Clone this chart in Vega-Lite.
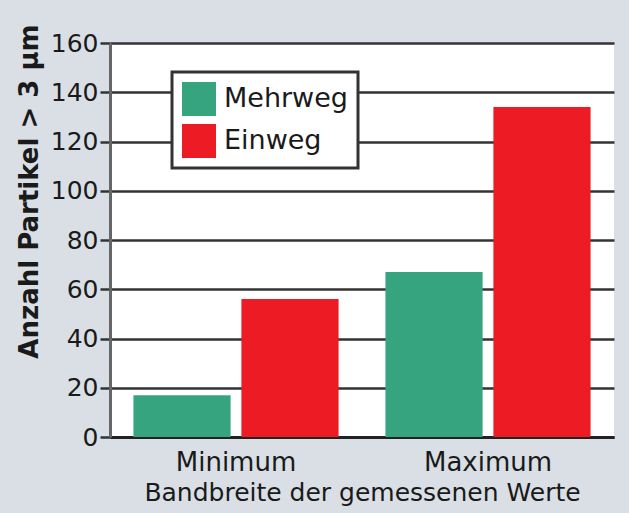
{
  "$schema": "https://vega.github.io/schema/vega-lite/v6.json",
  "autosize": "none",
  "width": 504,
  "height": 394,
  "padding": {"left": 110, "top": 43, "right": 15, "bottom": 76},
  "background": "#d9dfe5",
  "config": {
    "font": "DejaVu Sans",
    "aria": false,
    "view": {"fill": "white", "stroke": null}
  },
  "data": {
    "values": [
      {"Bereich": "Minimum", "Typ": "Mehrweg", "Anzahl": 17},
      {"Bereich": "Minimum", "Typ": "Einweg", "Anzahl": 56},
      {"Bereich": "Maximum", "Typ": "Mehrweg", "Anzahl": 67},
      {"Bereich": "Maximum", "Typ": "Einweg", "Anzahl": 134}
    ]
  },
  "mark": {"type": "bar"},
  "encoding": {
    "x": {
      "field": "Bereich",
      "type": "nominal",
      "sort": ["Minimum", "Maximum"],
      "title": "Bandbreite der gemessenen Werte",
      "scale": {"paddingInner": 0, "paddingOuter": 0},
      "axis": {
        "titleFontSize": 25,
        "titleFontWeight": "normal",
        "titleColor": "#1a1a1a",
        "titlePadding": 5,
        "labelFontSize": 26,
        "labelColor": "#1a1a1a",
        "labelAngle": 0,
        "labelPadding": 12,
        "ticks": false,
        "domainColor": "#222",
        "domainWidth": 3
      }
    },
    "xOffset": {
      "field": "Typ",
      "type": "nominal",
      "sort": ["Mehrweg", "Einweg"],
      "scale": {"paddingInner": 0.1, "paddingOuter": 0.217}
    },
    "y": {
      "field": "Anzahl",
      "type": "quantitative",
      "stack": null,
      "title": "Anzahl Partikel > 3 µm",
      "scale": {"domain": [0, 160], "nice": false},
      "axis": {
        "titleFontSize": 26,
        "titleFontWeight": "bold",
        "titleColor": "#1a1a1a",
        "titlePadding": 8,
        "titleY": 148,
        "titleAlign": "center",
        "values": [0, 20, 40, 60, 80, 100, 120, 140, 160],
        "labelFontSize": 25,
        "labelColor": "#1a1a1a",
        "labelPadding": 2,
        "tickSize": 10,
        "tickColor": "#333",
        "tickWidth": 2.5,
        "gridColor": "#333",
        "gridWidth": 2.5,
        "domainColor": "#666",
        "domainWidth": 3
      }
    },
    "color": {
      "field": "Typ",
      "type": "nominal",
      "sort": ["Mehrweg", "Einweg"],
      "title": null,
      "scale": {"domain": ["Mehrweg", "Einweg"], "range": ["#36a47e", "#ed1c24"]},
      "legend": {
        "orient": "none",
        "legendX": 62,
        "legendY": 29,
        "fillColor": "white",
        "strokeColor": "#333",
        "padding": 10,
        "symbolType": "square",
        "symbolSize": 1156,
        "symbolStrokeWidth": 0,
        "symbolOpacity": 1,
        "rowPadding": 8,
        "labelOffset": 8,
        "labelFontSize": 27,
        "labelColor": "#1a1a1a",
        "encode": {"legend": {"update": {"strokeWidth": {"value": 3}}}}
      }
    }
  }
}
